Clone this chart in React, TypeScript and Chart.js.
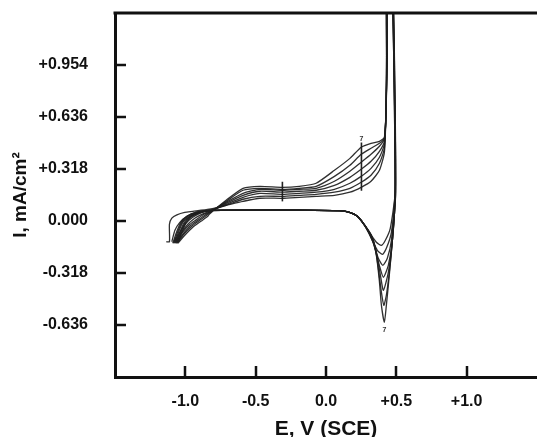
import React, { useEffect, useRef } from 'react';
import { Chart, registerables } from 'chart.js';

Chart.register(...registerables);

// Axis ticks: potential E (V vs SCE) and current density I (mA/cm²)
const potentialTicks = [-1.5, -1.0, -0.5, 0.0, 0.5, 1.0, 1.5];
const potentialLabels = ['', '-1.0', '-0.5', '0.0', '+0.5', '+1.0', ''];
const currentTicks = [-0.954, -0.636, -0.318, 0.0, 0.318, 0.636, 0.954, 1.272];
const currentLabels = ['', '-0.636', '-0.318', '0.000', '+0.318', '+0.636', '+0.954', ''];

// Successive voltammetric cycles, each as [E, I] pairs (anodic sweep, then cathodic return)
const cycle1: [number, number][] = [
  [-1.135, -0.127], [-1.113, -0.127], [-1.113, -0.02], [-1.096, 0.017], [-1.06, 0.038], [-1.004, 0.053], [-0.947, 0.059],
  [-0.83, 0.072], [-0.71, 0.096], [-0.59, 0.12], [-0.47, 0.139], [-0.31, 0.139], [-0.19, 0.145], [-0.07, 0.151],
  [0.06, 0.157], [0.17, 0.176], [0.25, 0.206], [0.32, 0.243], [0.38, 0.31], [0.415, 0.42],
  [0.425, 0.62], [0.436, 1.0], [0.438, 1.47],
  [0.466, 1.47], [0.482, 0.98], [0.49, 0.43], [0.49, 0.157], [0.457, -0.045], [0.422, -0.118], [0.394, -0.149],
  [0.358, -0.13], [0.316, -0.081], [0.273, -0.026], [0.223, 0.029], [0.167, 0.053], [0.096, 0.062],
  [-0.19, 0.066], [-0.54, 0.066], [-0.83, 0.065], [-0.926, 0.053], [-0.989, 0.029], [-1.039, -0.008], [-1.074, -0.057], [-1.096, -0.127],
];
const cycle2: [number, number][] = [
  [-1.089, -0.136], [-1.039, -0.069], [-0.996, -0.014], [-0.947, 0.023], [-0.897, 0.047],
  [-0.83, 0.065], [-0.71, 0.096], [-0.59, 0.133], [-0.47, 0.151], [-0.31, 0.151], [-0.19, 0.157], [-0.07, 0.163],
  [0.06, 0.176], [0.17, 0.2], [0.25, 0.237], [0.32, 0.28], [0.38, 0.353], [0.415, 0.445],
  [0.425, 0.63], [0.435, 1.0], [0.437, 1.47],
  [0.467, 1.47], [0.482, 0.98], [0.49, 0.43], [0.49, 0.157], [0.465, -0.069], [0.429, -0.167], [0.401, -0.204],
  [0.365, -0.179], [0.323, -0.106], [0.273, -0.026], [0.223, 0.029], [0.167, 0.053], [0.096, 0.062],
  [-0.19, 0.066], [-0.54, 0.066], [-0.83, 0.065], [-0.926, 0.053], [-0.989, 0.029], [-1.032, -0.008], [-1.06, -0.063], [-1.089, -0.136],
];
const cycle3: [number, number][] = [
  [-1.082, -0.136], [-1.032, -0.075], [-0.982, -0.02], [-0.933, 0.017], [-0.883, 0.041],
  [-0.83, 0.059], [-0.71, 0.102], [-0.59, 0.145], [-0.47, 0.169], [-0.31, 0.163], [-0.19, 0.169], [-0.07, 0.176],
  [0.06, 0.194], [0.17, 0.231], [0.25, 0.273], [0.32, 0.322], [0.38, 0.39], [0.415, 0.469],
  [0.425, 0.64], [0.434, 1.0], [0.436, 1.47],
  [0.468, 1.47], [0.483, 0.98], [0.491, 0.43], [0.491, 0.157], [0.465, -0.118], [0.436, -0.228], [0.404, -0.271],
  [0.372, -0.228], [0.33, -0.118], [0.28, -0.032], [0.223, 0.029], [0.167, 0.053], [0.096, 0.063],
  [-0.19, 0.067], [-0.54, 0.066], [-0.83, 0.065], [-0.926, 0.05], [-0.982, 0.029], [-1.025, -0.008], [-1.053, -0.063], [-1.082, -0.136],
];
const cycle4: [number, number][] = [
  [-1.074, -0.136], [-1.025, -0.075], [-0.975, -0.026], [-0.918, 0.01], [-0.869, 0.041],
  [-0.83, 0.053], [-0.71, 0.108], [-0.59, 0.157], [-0.47, 0.182], [-0.31, 0.176], [-0.19, 0.182], [-0.07, 0.188],
  [0.06, 0.218], [0.17, 0.267], [0.25, 0.316], [0.32, 0.365], [0.38, 0.426], [0.415, 0.487],
  [0.426, 0.65], [0.433, 1.0], [0.435, 1.47],
  [0.469, 1.47], [0.484, 0.98], [0.492, 0.43], [0.492, 0.157], [0.472, -0.118], [0.443, -0.271], [0.408, -0.344],
  [0.379, -0.271], [0.337, -0.136], [0.28, -0.032], [0.223, 0.029], [0.167, 0.053], [0.096, 0.063],
  [-0.19, 0.067], [-0.54, 0.067], [-0.83, 0.065], [-0.918, 0.05], [-0.975, 0.026], [-1.018, -0.008], [-1.046, -0.063], [-1.074, -0.136],
];
const cycle5: [number, number][] = [
  [-1.067, -0.136], [-1.018, -0.081], [-0.968, -0.032], [-0.911, 0.004], [-0.862, 0.035],
  [-0.83, 0.053], [-0.71, 0.114], [-0.59, 0.169], [-0.47, 0.194], [-0.31, 0.188], [-0.19, 0.194], [-0.07, 0.2],
  [0.06, 0.243], [0.17, 0.304], [0.25, 0.359], [0.32, 0.408], [0.38, 0.457], [0.415, 0.5],
  [0.426, 0.66], [0.432, 1.0], [0.434, 1.47],
  [0.47, 1.47], [0.485, 0.98], [0.493, 0.43], [0.493, 0.157], [0.472, -0.118], [0.443, -0.314], [0.408, -0.424],
  [0.387, -0.332], [0.358, -0.191], [0.33, -0.106], [0.28, -0.032], [0.223, 0.029], [0.167, 0.053], [0.096, 0.063],
  [-0.19, 0.067], [-0.54, 0.067], [-0.83, 0.064], [-0.918, 0.047], [-0.975, 0.023], [-1.011, -0.014], [-1.039, -0.069], [-1.067, -0.136],
];
const cycle6: [number, number][] = [
  [-1.06, -0.136], [-1.011, -0.081], [-0.954, -0.032], [-0.897, 0.004], [-0.848, 0.035],
  [-0.83, 0.047], [-0.71, 0.12], [-0.59, 0.188], [-0.47, 0.2], [-0.31, 0.194], [-0.19, 0.2], [-0.07, 0.212],
  [0.06, 0.273], [0.17, 0.341], [0.25, 0.408], [0.32, 0.445], [0.38, 0.475], [0.415, 0.506],
  [0.427, 0.67], [0.431, 1.0], [0.433, 1.47],
  [0.471, 1.47], [0.486, 0.98], [0.494, 0.43], [0.494, 0.157], [0.472, -0.118], [0.45, -0.314], [0.429, -0.454],
  [0.411, -0.516], [0.394, -0.436], [0.372, -0.289], [0.351, -0.167], [0.323, -0.087], [0.28, -0.032],
  [0.223, 0.029], [0.167, 0.053], [0.096, 0.063],
  [-0.19, 0.067], [-0.54, 0.067], [-0.83, 0.064], [-0.911, 0.047], [-0.968, 0.023], [-1.004, -0.014], [-1.032, -0.069], [-1.06, -0.136],
];
const cycle7: [number, number][] = [
  [-1.053, -0.136], [-1.004, -0.087], [-0.947, -0.038], [-0.89, -0.002], [-0.84, 0.029],
  [-0.83, 0.041], [-0.71, 0.127], [-0.59, 0.2], [-0.47, 0.212], [-0.31, 0.206], [-0.19, 0.212], [-0.07, 0.231],
  [0.06, 0.31], [0.17, 0.383], [0.25, 0.451], [0.32, 0.475], [0.38, 0.487], [0.415, 0.512],
  [0.427, 0.68], [0.43, 1.0], [0.432, 1.47],
  [0.472, 1.47], [0.487, 0.98], [0.495, 0.43], [0.495, 0.157], [0.472, -0.118], [0.45, -0.332], [0.429, -0.516],
  [0.415, -0.62], [0.394, -0.516], [0.379, -0.363], [0.358, -0.21], [0.33, -0.106], [0.28, -0.032],
  [0.223, 0.029], [0.167, 0.053], [0.096, 0.063],
  [-0.19, 0.067], [-0.54, 0.067], [-0.83, 0.064], [-0.911, 0.047], [-0.961, 0.023], [-0.996, -0.014], [-1.025, -0.069], [-1.053, -0.136],
];

const cycles = [cycle1, cycle2, cycle3, cycle4, cycle5, cycle6, cycle7];

// Short strokes that cross the bundle of anodic curves to mark the cycle order
const plateauMarker: [number, number][] = [[-0.31, 0.12], [-0.31, 0.24]];
const shoulderMarker: [number, number][] = [[0.252, 0.185], [0.252, 0.48]];

// Cycle-number notes: text, E, I
const cycleNotes: [string, number, number][] = [
  ['7', 0.252, 0.5],
  ['7', 0.415, -0.665],
];

const FONT = "'Liberation Sans', Arial, Helvetica, sans-serif";

const frameTicks = {
  id: 'frameTicks',
  afterDraw(chart: any) {
    const { ctx, chartArea, scales } = chart;
    const xs = scales.x;
    const ys = scales.y;
    ctx.save();
    ctx.strokeStyle = '#111';
    ctx.lineWidth = 3;
    ctx.lineCap = 'butt';
    ctx.beginPath();
    ctx.moveTo(chartArea.left - 1.5, chartArea.top);
    ctx.lineTo(chartArea.right, chartArea.top);
    ctx.stroke();
    ctx.lineWidth = 2.5;
    ctx.beginPath();
    potentialTicks.forEach((v, i) => {
      if (!potentialLabels[i]) return;
      const px = Math.round(xs.getPixelForValue(v));
      ctx.moveTo(px, chartArea.bottom);
      ctx.lineTo(px, chartArea.bottom - 11);
    });
    currentTicks.forEach((v, i) => {
      if (!currentLabels[i]) return;
      const py = Math.round(ys.getPixelForValue(v));
      ctx.moveTo(chartArea.left, py);
      ctx.lineTo(chartArea.left + 11, py);
    });
    ctx.stroke();
    ctx.fillStyle = '#333';
    ctx.font = `bold 7px ${FONT}`;
    ctx.textAlign = 'center';
    ctx.textBaseline = 'middle';
    cycleNotes.forEach(([t, e, i]) => {
      ctx.fillText(t, xs.getPixelForValue(e), ys.getPixelForValue(i));
    });
    ctx.restore();
  },
};

export default function App() {
  const ref = useRef<HTMLCanvasElement | null>(null);

  useEffect(() => {
    const canvas = ref.current;
    if (!canvas) return;

    const curveSets = cycles.map((c, k) => ({
      label: `Cycle ${k + 1}`,
      data: c.map(([x, y]) => ({ x, y })),
      borderColor: 'rgba(30,30,30,0.92)',
      borderWidth: 1.3,
      pointRadius: 0,
      showLine: true,
      tension: 0.2,
      fill: false,
    }));
    const markerSets = [plateauMarker, shoulderMarker].map((m, k) => ({
      label: `Marker ${k + 1}`,
      data: m.map(([x, y]) => ({ x, y })),
      borderColor: '#222',
      borderWidth: 1.6,
      pointRadius: 0,
      showLine: true,
      tension: 0,
      fill: false,
    }));

    const chart = new Chart(canvas, {
      type: 'scatter',
      data: { datasets: [...curveSets, ...markerSets] as any },
      options: {
        responsive: false,
        animation: false,
        devicePixelRatio: 1,
        layout: { autoPadding: false, padding: { top: 13, left: 0, right: 0, bottom: 0 } },
        plugins: { legend: { display: false }, tooltip: { enabled: false } },
        scales: {
          x: {
            type: 'linear',
            min: -1.5,
            max: 1.5,
            afterBuildTicks: (s: any) => {
              s.ticks = potentialTicks.map((value) => ({ value }));
            },
            afterFit: (s: any) => {
              s.height = 60;
              s.paddingLeft = 0;
              s.paddingRight = 0;
            },
            grid: { display: false, drawTicks: false },
            border: { display: true, color: '#111', width: 3 },
            ticks: {
              padding: 15,
              color: '#111',
              font: { family: FONT, size: 16, weight: 'bold' },
              maxRotation: 0,
              autoSkip: false,
              callback: (_v: any, i: number) => potentialLabels[i],
            },
            title: {
              display: true,
              text: 'E, V (SCE)',
              color: '#111',
              font: { family: FONT, size: 21, weight: 'bold', lineHeight: 1 },
              padding: { top: 0, bottom: -3 },
            },
          },
          y: {
            type: 'linear',
            min: -0.954,
            max: 1.272,
            afterBuildTicks: (s: any) => {
              s.ticks = currentTicks.map((value) => ({ value }));
            },
            afterFit: (s: any) => {
              s.width = 115;
              s.paddingTop = 0;
              s.paddingBottom = 0;
            },
            grid: { display: false, drawTicks: false },
            border: { display: true, color: '#111', width: 3 },
            ticks: {
              padding: 27,
              color: '#111',
              font: { family: FONT, size: 16, weight: 'bold' },
              autoSkip: false,
              callback: (_v: any, i: number) => currentLabels[i],
            },
            title: {
              display: true,
              text: 'I, mA/cm²',
              color: '#111',
              font: { family: FONT, size: 19, weight: 'bold', lineHeight: 1 },
              padding: { top: 11, bottom: 0 },
            },
          },
        },
      },
      plugins: [frameTicks],
    });

    return () => chart.destroy();
  }, []);

  return (
    <div style={{ position: 'fixed', left: 0, top: 0, width: 537, height: 437, background: '#fff', overflow: 'hidden' }}>
      <canvas ref={ref} width={537} height={437} style={{ display: 'block', width: 537, height: 437 }} />
    </div>
  );
}
